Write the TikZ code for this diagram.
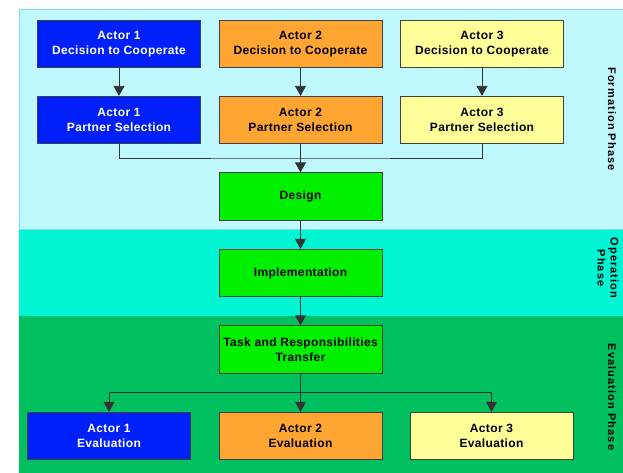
\documentclass[tikz,border=0pt]{standalone}
\usepackage{fontspec}
\setmainfont{Liberation Sans}
\usetikzlibrary{arrows.meta,positioning}

\definecolor{formbg}{RGB}{192,248,255}
\definecolor{operbg}{RGB}{0,245,210}
\definecolor{evalbg}{RGB}{0,192,96}
\definecolor{bandline}{RGB}{120,220,255}
\definecolor{actone}{RGB}{0,32,250}
\definecolor{acttwo}{RGB}{255,165,50}
\definecolor{actthree}{RGB}{255,255,153}
\definecolor{stepgreen}{RGB}{0,240,0}

\begin{document}
\begin{tikzpicture}[x=1pt,y=-1pt,>={Triangle[width=11pt,length=10pt]},
  box/.style={draw=black!75,line width=0.8pt,minimum width=163pt,minimum height=47.5pt,
    align=center,font=\fontsize{12}{15}\selectfont\bfseries\addfontfeatures{LetterSpace=3},inner sep=1pt},
  blubox/.style={box,fill=actone,text=white},
  orabox/.style={box,fill=acttwo},
  yelbox/.style={box,fill=actthree},
  grnbox/.style={box,fill=stepgreen},
  link/.style={draw=black!80,line width=0.9pt},
  phase/.style={rotate=-90,align=center,font=\fontsize{11}{13}\selectfont\bfseries\addfontfeatures{LetterSpace=10}}]
\useasboundingbox (0,0) rectangle (623,473);
% phase bands
\fill[formbg] (19,10) rectangle (623,229);
\draw[bandline,line width=1pt] (623,10) -- (19,10) -- (19,473);
\fill[operbg] (19,229) rectangle (623,316);
\fill[evalbg] (19,316) rectangle (623,473);
\draw[bandline,line width=0.8pt] (19,229) -- (623,229);
\draw[evalbg!80!black!60!operbg,line width=0.6pt] (19,316) -- (623,316);
\node[phase] (pform) at (612,119) {Formation Phase};
\node[phase] (poper) at (608,268) {Operation\\Phase};
\node[phase] (peval) at (612,397) {Evaluation Phase};
% formation
\node[blubox] (dc1) at (119,43.75) {Actor 1\\Decision to Cooperate};
\node[orabox] (dc2) at (300.5,43.75) {Actor 2\\Decision to Cooperate};
\node[yelbox] (dc3) at (482,43.75) {Actor 3\\Decision to Cooperate};
\node[blubox] (ps1) at (119,120) {Actor 1\\Partner Selection};
\node[orabox] (ps2) at (300.5,120) {Actor 2\\Partner Selection};
\node[yelbox] (ps3) at (482,120) {Actor 3\\Partner Selection};
\draw[link,->] (dc1) -- (ps1);
\draw[link,->] (dc2) -- (ps2);
\draw[link,->] (dc3) -- (ps3);
\node[grnbox] (design) at (300.5,196.5) {Design};
\coordinate (merge) at (300.5,158);
\draw[link] (ps1) |- (merge) -| (ps3);
\draw[link,->] (ps2) -- (design);
% operation
\node[grnbox] (impl) at (300.5,273) {Implementation};
\draw[link,->] (design) -- (impl);
% evaluation
\node[grnbox] (task) at (300.5,349.5) {Task and Responsibilities\\Transfer};
\draw[link,->] (impl) -- (task);
\node[blubox] (ev1) at (109,436) {Actor 1\\Evaluation};
\node[orabox] (ev2) at (300.5,436) {Actor 2\\Evaluation};
\node[yelbox] (ev3) at (491.5,436) {Actor 3\\Evaluation};
\coordinate (split) at (300.5,392);
\draw[link,->] (split) -| (ev1);
\draw[link,->] (split) -| (ev3);
\draw[link,->] (task) -- (ev2);
\end{tikzpicture}
\end{document}
